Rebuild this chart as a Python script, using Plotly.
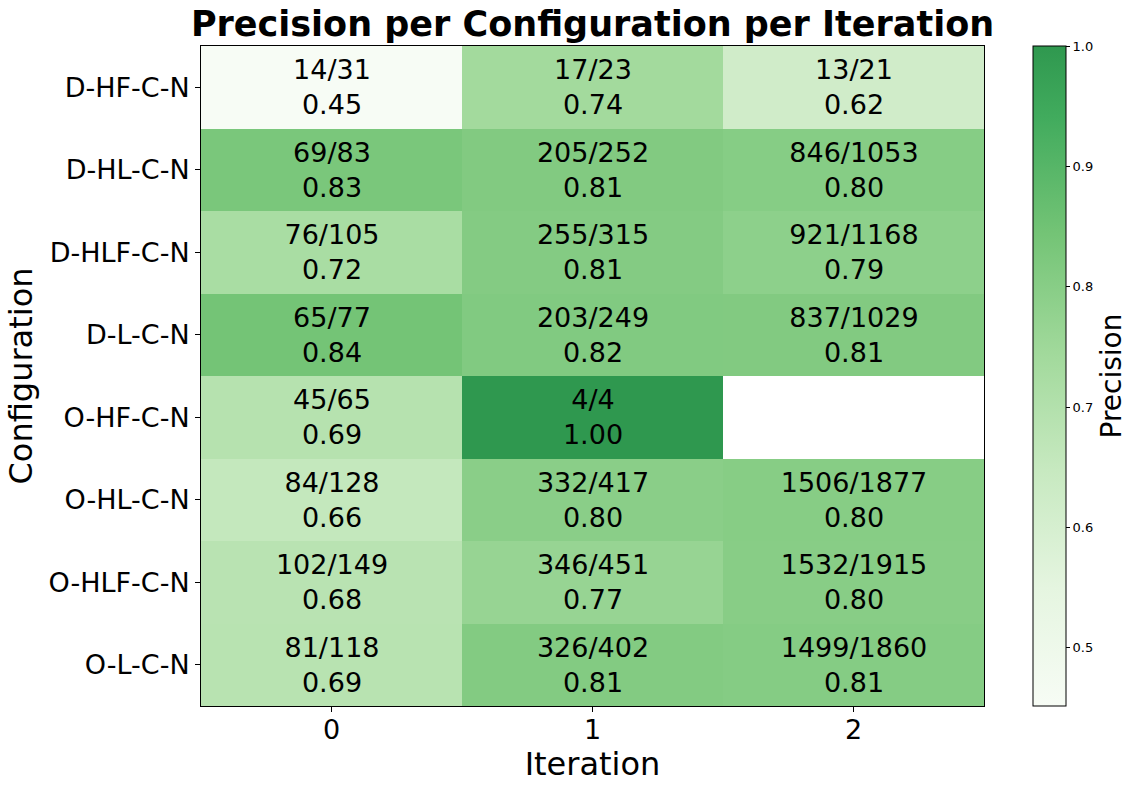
import plotly.graph_objects as go

configs = ["D-HF-C-N", "D-HL-C-N", "D-HLF-C-N", "D-L-C-N",
           "O-HF-C-N", "O-HL-C-N", "O-HLF-C-N", "O-L-C-N"]
iterations = ["0", "1", "2"]
# correct / total per configuration (rows) and iteration (columns); None = missing
correct = [
    [14, 17, 13],
    [69, 205, 846],
    [76, 255, 921],
    [65, 203, 837],
    [45, 4, None],
    [84, 332, 1506],
    [102, 346, 1532],
    [81, 326, 1499],
]
total = [
    [31, 23, 21],
    [83, 252, 1053],
    [105, 315, 1168],
    [77, 249, 1029],
    [65, 4, None],
    [128, 417, 1877],
    [149, 451, 1915],
    [118, 402, 1860],
]

z, text = [], []
for cr, tr in zip(correct, total):
    zr, tx = [], []
    for c, t in zip(cr, tr):
        if c is None:
            zr.append(None); tx.append("")
        else:
            p = c / t
            zr.append(p); tx.append(f"{c}/{t}<br>{p:.2f}")
    z.append(zr); text.append(tx)

vals = [v for r in z for v in r if v is not None]
zmin, zmax = min(vals), max(vals)

# matplotlib "Greens" truncated to [0, 0.7]
greens = ["#f7fcf5", "#e5f5e0", "#c7e9c0", "#a1d99b", "#74c476", "#41ab5d", "#2f984f"]
pos = [0, 0.125/0.7, 0.25/0.7, 0.375/0.7, 0.5/0.7, 0.625/0.7, 1.0]
colorscale = [[p, c] for p, c in zip(pos, greens)]

font = "DejaVu Sans"
L, R, T, B = 201, 984, 46, 706
W, H = 1141, 790
fig = go.Figure(go.Heatmap(
    z=z, x=iterations, y=configs, text=text, texttemplate="%{text}",
    textfont=dict(family=font, size=27, color="black"),
    colorscale=colorscale, zmin=zmin, zmax=zmax, xgap=0, ygap=0,
    hoverongaps=False,
    colorbar=dict(
        x=(1033 - L) / (R - L), xanchor="left", y=0.5, yanchor="middle", len=1, lenmode="fraction",
        xpad=0, ypad=0,
        thickness=33, outlinecolor="black", outlinewidth=1,
        ticks="outside", ticklen=4, tickcolor="black",
        tickvals=[0.5, 0.6, 0.7, 0.8, 0.9, 1.0], ticktext=["0.5", "0.6", "0.7", "0.8", "0.9", "1.0"],
        tickfont=dict(family=font, size=13, color="black"),
        title=dict(text="Precision", side="right", font=dict(family=font, size=28, color="black")),
    ),
))

fig.update_layout(
    width=W, height=H,
    margin=dict(l=L, r=W - R, t=T, b=H - B, autoexpand=False),
    paper_bgcolor="white", plot_bgcolor="white",
    title=dict(text="<b>Precision per Configuration per Iteration</b>",
               x=(L + R) / 2 / W, xanchor="center", y=1 - 24 / H, yanchor="middle",
               font=dict(family=font, size=35, color="black")),
)
fig.update_xaxes(title=dict(text="Iteration", font=dict(family=font, size=32, color="black"), standoff=3),
                 tickfont=dict(family=font, size=27, color="black"), ticklabelstandoff=-5,
                 ticks="outside", ticklen=5, tickcolor="black",
                 showline=True, linecolor="black", linewidth=1, mirror=True, showgrid=False)
fig.update_yaxes(title=dict(text="Configuration", font=dict(family=font, size=32, color="black"), standoff=6),
                 tickfont=dict(family=font, size=27, color="black"),
                 ticks="outside", ticklen=5, tickcolor="black", autorange="reversed",
                 showline=True, linecolor="black", linewidth=1, mirror=True, showgrid=False)

fig.write_html("out.html")
